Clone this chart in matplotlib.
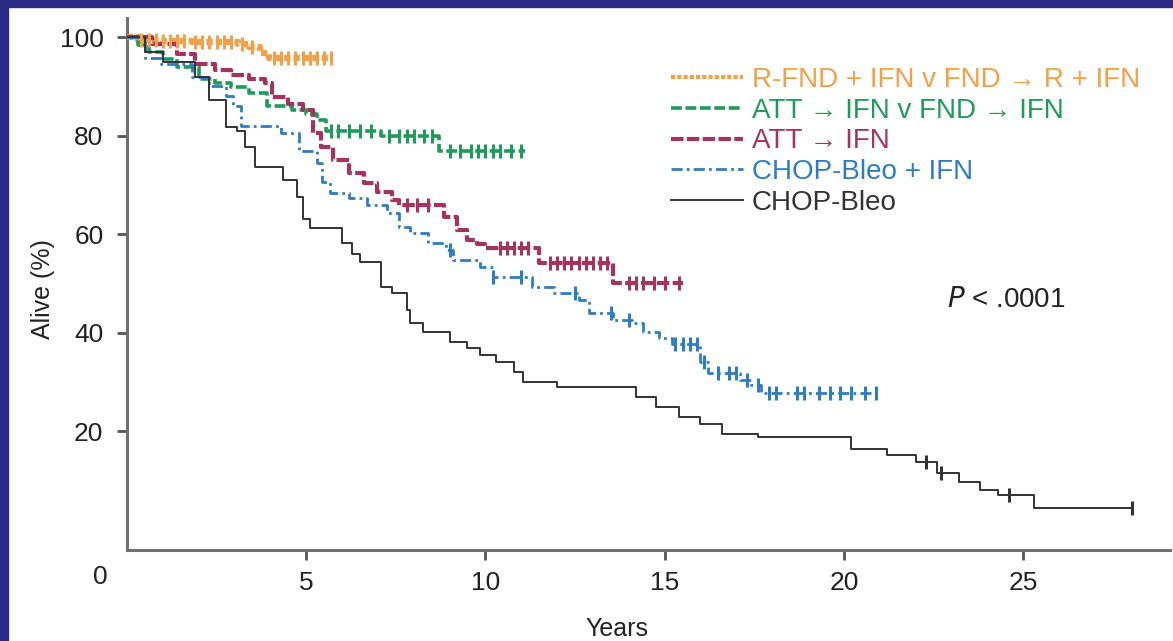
import matplotlib
matplotlib.use("Agg")
import matplotlib.pyplot as plt
from matplotlib.lines import Line2D
import matplotlib.transforms as mtrans

plt.rcParams['font.family'] = ['Liberation Sans', 'DejaVu Sans']

# ---------------- data ----------------
labels = ["R-FND + IFN v FND \u2192 R + IFN",
          "ATT \u2192 IFN v FND \u2192 IFN",
          "ATT \u2192 IFN",
          "CHOP-Bleo + IFN",
          "CHOP-Bleo"]

orange_t = [0, 0.3, 1.0, 1.8, 3.1, 3.4, 3.7, 3.95, 5.75]
orange_s = [100, 99.5, 99.2, 99.0, 98.6, 98.0, 96.8, 95.7, 95.7]
orange_c = [0.4, 0.6, 0.8, 1.0, 1.2, 1.4, 1.6, 1.9, 2.1, 2.3, 2.5, 2.7, 2.9, 3.2, 3.5,
            4.1, 4.3, 4.5, 4.7, 4.9, 5.1, 5.3, 5.5, 5.7]

green_t = [0, 0.3, 0.6, 1.0, 1.4, 2.0, 2.45, 2.9, 3.4, 3.9, 4.6, 5.0, 5.3, 5.55, 7.1, 8.7, 11.1]
green_s = [100, 98.5, 97, 95.5, 94, 91.5, 90.6, 89.9, 88.6, 86, 85.2, 84.5, 83.1, 81, 80, 76.8, 76.8]
green_c = [5.7, 5.9, 6.2, 6.5, 6.8, 7.3, 7.6, 7.8, 8.0, 8.3, 8.5, 9.0, 9.3, 9.6, 9.8,
           10.0, 10.2, 10.4, 10.7, 11.0]

maroon_t = [0, 0.7, 1.4, 1.9, 2.45, 2.9, 3.4, 3.85, 4.05, 4.5, 4.9, 5.2, 5.42, 5.75,
            6.2, 6.6, 6.97, 7.4, 7.6, 8.85, 9.2, 9.5, 9.76, 10.0, 11.5, 13.55, 15.5]
maroon_s = [100, 98.7, 96.6, 94.6, 93.3, 92.3, 91.6, 90.6, 87.8, 86.5, 85.2, 80.5, 77.7, 75,
            72.4, 70.3, 68.5, 66.9, 65.9, 63.5, 60.8, 58.8, 58.0, 57.2, 54.1, 50.0, 50.0]
maroon_c = [7.8, 8.1, 8.4, 10.4, 10.6, 10.8, 11.0, 11.2, 11.8, 12.0, 12.2, 12.4, 12.6,
            12.8, 13.0, 13.2, 13.4, 14.0, 14.2, 14.4, 14.7, 15.0, 15.4]

blue_t = [0, 0.5, 0.95, 1.8, 2.3, 2.75, 2.97, 3.18, 4.3, 4.8, 5.3, 5.45, 5.66, 6.2, 6.7,
          7.25, 7.6, 7.9, 8.4, 8.9, 9.1, 9.85, 10.2, 11.3, 11.9, 12.6, 12.9, 13.55, 14.1,
          14.4, 14.85, 15.2, 16.0, 16.2, 17.1, 17.4, 17.7, 20.9]
blue_s = [100, 95.7, 94.6, 92, 90, 88, 86, 82, 80.5, 76.8, 74.4, 70.5, 68.3, 67.3, 65.9,
          64.2, 61.5, 60.2, 58.2, 56.8, 54.7, 53.3, 51.3, 49.2, 48, 46.6, 44, 42.5, 41.9,
          40.1, 38.9, 37.6, 34, 31.8, 30.4, 29.3, 27.7, 27.7]
blue_c = [9.0, 10.2, 11.0, 12.5, 13.5, 14.0, 15.3, 15.5, 15.7, 15.9, 16.1, 16.5, 16.8,
          17.0, 17.3, 17.6, 17.9, 18.1, 18.7, 18.9, 19.3, 19.6, 19.9, 20.2, 20.6, 20.9]

black_t = [0, 0.5, 1.0, 1.9, 2.28, 2.75, 3.07, 3.3, 3.56, 4.36, 4.73, 4.9, 5.1, 6.0,
           6.28, 6.5, 7.1, 7.4, 7.8, 7.9, 8.25, 9.0, 9.5, 9.85, 10.3, 10.8, 11.05,
           12.0, 14.2, 14.75, 15.4, 16.0, 16.6, 17.6, 20.2, 21.2, 22.0, 22.6, 23.2,
           23.8, 24.3, 25.3, 28.05]
black_s = [100, 97, 95, 92, 87.2, 81.8, 81, 77.7, 73.6, 71, 67.6, 63, 61.2, 58.2,
           56, 54.3, 49.2, 48, 44.6, 41.9, 40.1, 38, 36.8, 35.4, 34, 32, 30,
           28.9, 27.0, 24.9, 22.8, 21.4, 19.4, 18.8, 16.3, 15.1, 13.7, 11.4, 9.7,
           8.0, 7.0, 4.4, 4.4]
black_c = [22.3, 22.7, 24.6, 28.05]

colors = ["#f2a04a", "#1f9a5a", "#a3345e", "#2f7dbf", "#333333"]
navy = "#2b2b85"

# ---------------- figure ----------------
fig = plt.figure(figsize=(11.73, 6.41), dpi=100)
fig.patch.set_facecolor("white")
fig.add_artist(plt.Rectangle((0, 1 - 7 / 641), 1, 7 / 641, transform=fig.transFigure,
                             color=navy, zorder=0))
fig.add_artist(plt.Rectangle((0, 0), 8 / 1173, 1, transform=fig.transFigure,
                             color=navy, zorder=0))

ax = fig.add_axes([127 / 1173, (641 - 550) / 641, (1170 - 127) / 1173, (550 - 18) / 641])
ax.set_xlim(0, 29.1)
ax.set_ylim(-4.16, 103.9)

def step_at(t, s, x):
    v = s[0]
    for ti, si in zip(t, s):
        if ti <= x:
            v = si
    return v

series = [
    (orange_t, orange_s, orange_c, colors[0], (0, (1, 0.5)), 4.5),
    (green_t, green_s, green_c, colors[1], (0, (3, 1)), 2.6),
    (maroon_t, maroon_s, maroon_c, colors[2], (0, (3, 0.8)), 3.0),
    (blue_t, blue_s, blue_c, colors[3], (0, (4, 1.5, 1, 1.5)), 2.0),
    (black_t, black_s, black_c, colors[4], "-", 1.4),
]
for t, s, c, col, ls, lw in series:
    ax.step(t, s, where="post", color=col, linestyle=ls, linewidth=lw, zorder=3)
    cy = [step_at(t, s, x) for x in c]
    ax.plot(c, cy, linestyle="none", marker="|", markersize=10, markeredgewidth=2.2,
            color=col, zorder=4)

for side in ("top", "right"):
    ax.spines[side].set_visible(False)
for side in ("left", "bottom"):
    ax.spines[side].set_color("#707070")
    ax.spines[side].set_linewidth(2.2)

ax.set_xticks([5, 10, 15, 20, 25])
ax.set_yticks([20, 40, 60, 80, 100])
ax.tick_params(axis="both", colors="#555555", labelcolor="#222222", labelsize=19,
               width=2, length=7)
ax.tick_params(axis="x", pad=8)
ax.tick_params(axis="y", pad=10)

trans = mtrans.blended_transform_factory(ax.transData, ax.transAxes)
ax.text(-0.75, -0.028, "0", transform=trans, ha="center", va="top",
        fontsize=19, color="#222222")

ax.set_xlabel("Years", fontsize=18, color="#222222")
ax.xaxis.set_label_coords(0.47, -0.125)
ax.set_ylabel("Alive (%)", fontsize=18, color="#222222")
ax.yaxis.set_label_coords(-0.069, 0.49)

ax.text(0.786, 0.47, r"$\it{P}$ < .0001", transform=ax.transAxes, fontsize=20,
        color="#222222", ha="left", va="center")

handles = [Line2D([], [], color=col, linestyle=ls, linewidth=min(lw, 3.0))
           for (_, _, _, col, ls, lw) in series]
leg = ax.legend(handles, labels, loc="upper left", bbox_to_anchor=(0.511, 0.929),
                frameon=False, fontsize=20, handlelength=2.6, handletextpad=0.3,
                labelspacing=0.17, borderaxespad=0)
for txt, col in zip(leg.get_texts(), colors):
    txt.set_color(col)

fig.savefig("out.png", dpi=100, facecolor="white")
